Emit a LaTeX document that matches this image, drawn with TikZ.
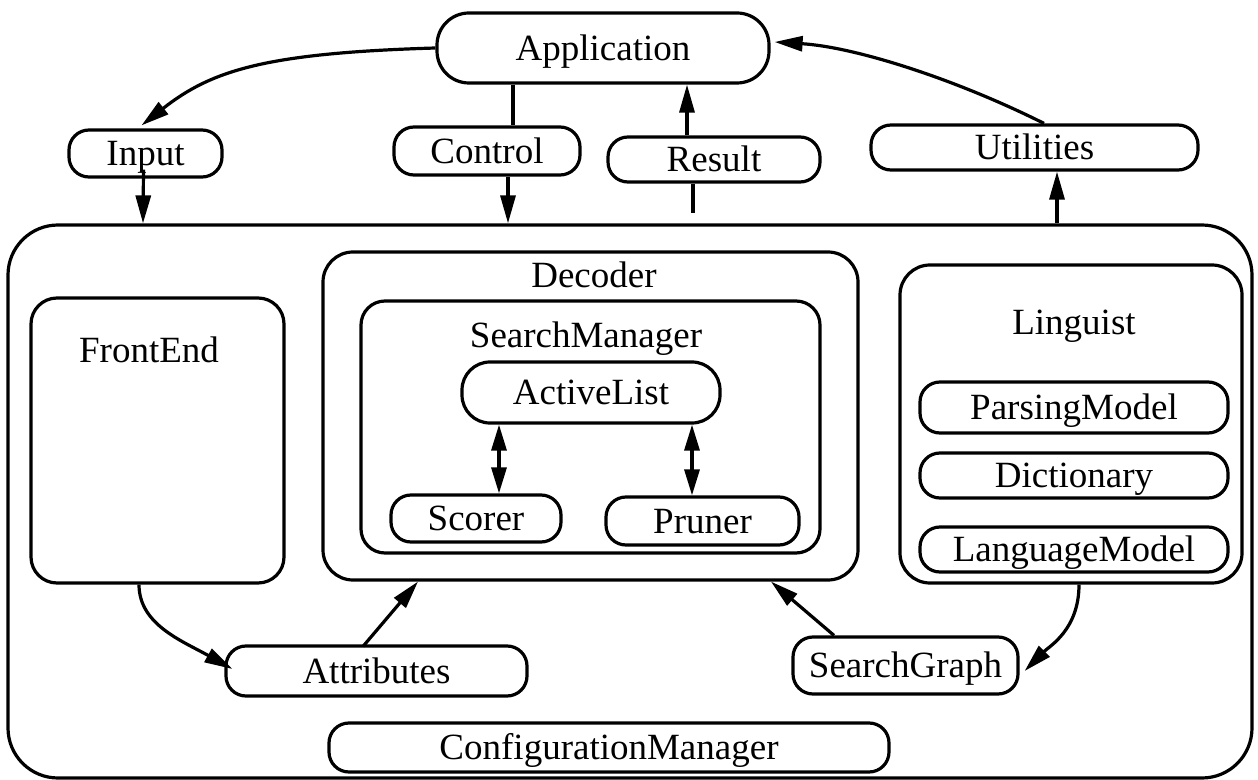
\documentclass[tikz,border=0pt]{standalone}
\usepackage{fontspec}
\setmainfont{Liberation Serif}
\usetikzlibrary{arrows.meta,calc}
\tikzset{
  box/.style={draw,line width=1.6pt,rounded corners=10pt,inner sep=0pt},
  ln/.style={line width=1.6pt},
  arr/.style={line width=1.6pt,-{Triangle[length=14pt,width=7.5pt]}},
  darr/.style={line width=1.6pt,{Triangle[length=13pt,width=7.5pt]}-{Triangle[length=13pt,width=7.5pt]}}
}

\begin{document}
\begin{tikzpicture}[x=0.5pt,y=-0.5pt,font=\fontsize{18.5}{22}\selectfont,
  every node/.append style={text height=12.2pt,text depth=0pt}]
\useasboundingbox (0,0) rectangle (1258,780);

% Outer frame
\node[box,rounded corners=25pt,minimum width=622pt,minimum height=276.5pt] (outer) at (630,501.5) {};

% Top row
\node[box,rounded corners=16pt,minimum width=166pt,minimum height=35pt] (app) at (603,48) {Application};
\node[box,minimum width=76.5pt,minimum height=23.5pt] (inp) at (145.5,153.5) {Input};
\node[box,minimum width=93pt,minimum height=24pt] (ctl) at (487,151) {Control};
\node[box,minimum width=106pt,minimum height=22.5pt] (res) at (714,159.5) {Result};
\node[box,minimum width=163.5pt,minimum height=22.5pt] (uti) at (1034.5,147.5) {Utilities};

% FrontEnd
\node[box,rounded corners=13pt,minimum width=126.5pt,minimum height=142.5pt] (fe) at (157.5,440.5) {};
\node (felab) at (149,350) {FrontEnd};

% Decoder
\node[box,rounded corners=15pt,minimum width=267.5pt,minimum height=164pt] (dec) at (590.5,416) {};
\node (declab) at (594,275) {Decoder};
\node[box,rounded corners=12pt,minimum width=229.5pt,minimum height=126pt] (sm) at (590.5,427) {};
\node (smlab) at (586,335) {SearchManager};
\node[box,rounded corners=14pt,minimum width=129pt,minimum height=30.5pt] (al) at (591,392.5) {ActiveList};
\node[box,minimum width=85pt,minimum height=23.5pt] (sco) at (476,518.5) {Scorer};
\node[box,minimum width=96.5pt,minimum height=24pt] (pru) at (702.5,521) {Pruner};

% Linguist
\node[box,rounded corners=15pt,minimum width=171pt,minimum height=159pt] (lin) at (1071,424) {};
\node (linlab) at (1074,322) {Linguist};
\node[box,minimum width=154pt,minimum height=25.5pt] (pm) at (1074,407.5) {ParsingModel};
\node[box,minimum width=154pt,minimum height=22.5pt] (dic) at (1074,475.5) {Dictionary};
\node[box,minimum width=154pt,minimum height=22.5pt] (lm) at (1074,549.5) {LanguageModel};

% Bottom row
\node[box,minimum width=150.5pt,minimum height=25pt] (attr) at (376.5,671) {Attributes};
\node[box,minimum width=112.5pt,minimum height=28.5pt] (sg) at (905.5,665.5) {SearchGraph};
\node[box,minimum width=280pt,minimum height=24.5pt] (cm) at (609,747.5) {ConfigurationManager};

% Connectors at the top
\draw[arr] (app.west) .. controls +(-170,5) and +(70,-55) .. ($(inp.north)+(-4,-3)$);
\draw[ln] ($(app.south)+(-90,0)$) -- ($(ctl.north)+(26,0)$);
\draw[arr] ($(inp.south)+(-2,-9)$) -- ($(outer.north)+(-487,0)$);
\draw[arr] ($(ctl.south)+(21,0)$) -- ($(outer.north)+(-122,0)$);
\draw[arr] ($(res.north)+(-27,0)$) -- ($(app.south)+(84,0)$);
\draw[ln] ($(res.south)+(-21,0)$) -- ($(outer.north)+(63,-10)$);
\draw[arr] ($(outer.north)+(427,0)$) -- ($(uti.south)+(22.5,0)$);
\draw[arr] ($(uti.north)+(9.5,0)$) .. controls +(-90,-45) and +(80,5) .. ($(app.east)+(4,-6)$);

% Inside the search manager
\draw[darr] ($(al.south)+(-92,0)$) -- ($(sco.north)+(23,0)$);
\draw[darr] ($(al.south)+(101,0)$) -- ($(pru.north)+(-10.5,0)$);

% Connectors at the bottom
\draw[arr] ($(fe.south)+(-18.5,0)$) .. controls +(0,40) and +(-50,-28) .. ($(attr.west)+(8,-2)$);
\draw[arr] ($(attr.north)+(-13.5,2)$) -- ($(dec.south)+(-172.5,0)$);
\draw[arr] ($(sg.north)+(-71.5,0)$) -- ($(dec.south)+(180.5,0)$);
\draw[arr] ($(lin.south)+(8,0)$) .. controls +(0,45) and +(25,-25) .. ($(sg.east)+(5,5.5)$);
\end{tikzpicture}
\end{document}
